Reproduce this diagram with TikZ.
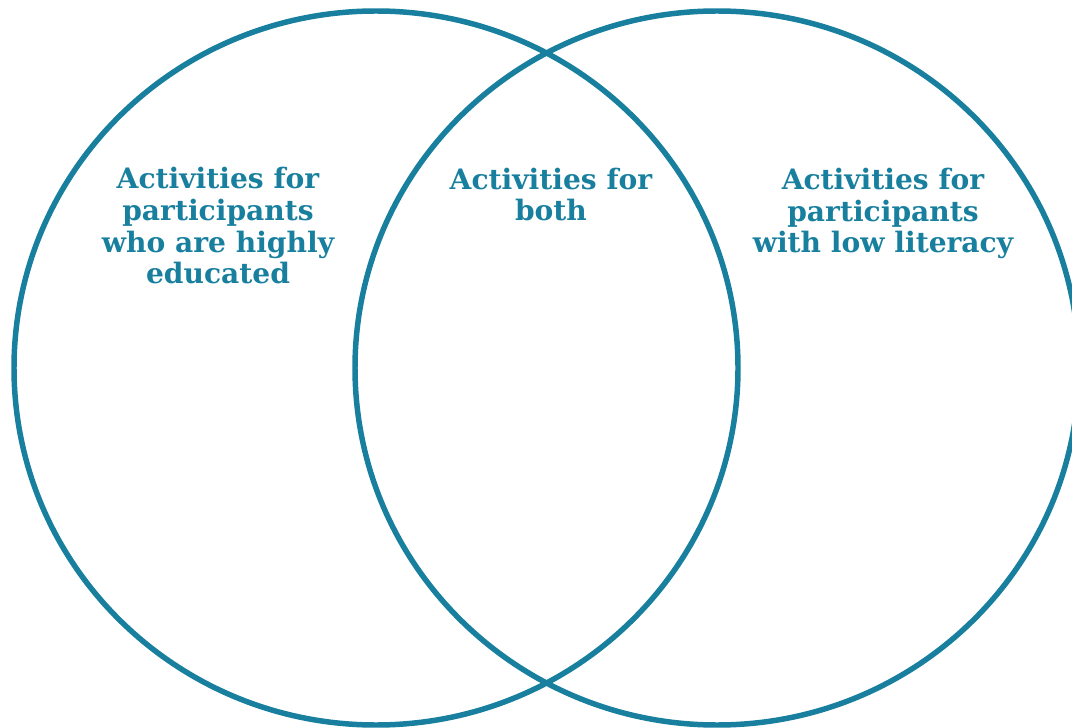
\documentclass[tikz,border=0pt]{standalone}
\usepackage{fontspec}
\setmainfont{DejaVu Serif}
\usepackage{tikz}
\definecolor{vennteal}{RGB}{24,128,158}

\begin{document}
\begin{tikzpicture}[
  x=0.025cm, y=-0.025cm,
  set/.style={draw=vennteal, line width=3.9pt},
  label/.style={text=vennteal, align=center, anchor=base,
                font=\bfseries\fontsize{20}{22.7}\selectfont},
]
\clip (0,0) rectangle (1072,728);

% the two sets
\draw[set] (376,368) ellipse [x radius=362, y radius=357];
\draw[set] (717,368) ellipse [x radius=362, y radius=357];

% texts (anchored at the last baseline)
\node[label] (high) at (218,284) {Activities for\\participants\\who are highly\\educated};
\node[label] (both) at (551,221) {Activities for\\both};
\node[label] (low)  at (883,253) {Activities for\\participants\\with low literacy};

\end{tikzpicture}
\end{document}
